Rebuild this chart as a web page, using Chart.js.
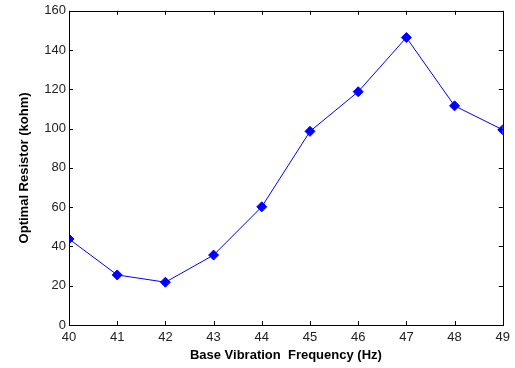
<!DOCTYPE html>
<html>
<head>
<meta charset="utf-8">
<script src="https://cdn.jsdelivr.net/npm/chart.js@4"></script>
<style>
  html, body { margin: 0; padding: 0; background: #fff; }
  #wrap { width: 515px; height: 368px; position: relative; }
</style>
</head>
<body>
<div id="wrap"><canvas id="resistorChart"></canvas></div>
<script>
// datos
const frequencies = [40, 41, 42, 43, 44, 45, 46, 47, 48, 49];
const resistance = [43.8, 25.5, 21.8, 35.6, 60.2, 98.6, 118.8, 146.4, 111.6, 99.4];
const yTicks = [0, 20, 40, 60, 80, 100, 120, 140, 160];

const points = frequencies.map((f, i) => ({ x: f, y: resistance[i] }));

// marco y marcas hacia adentro, estilo matlab
const boxTicks = {
    id: 'boxTicks',
    afterDatasetsDraw(chart) {
        const { ctx, chartArea: a, scales } = chart;
        const len = 4;
        ctx.save();
        ctx.strokeStyle = '#000';
        ctx.lineWidth = 1;
        ctx.beginPath();
        frequencies.forEach(f => {
            const px = Math.round(scales.x.getPixelForValue(f)) + 0.5;
            ctx.moveTo(px, a.bottom); ctx.lineTo(px, a.bottom - len);
            ctx.moveTo(px, a.top); ctx.lineTo(px, a.top + len);
        });
        yTicks.forEach(v => {
            const py = Math.round(scales.y.getPixelForValue(v)) + 0.5;
            ctx.moveTo(a.left, py); ctx.lineTo(a.left + len, py);
            ctx.moveTo(a.right, py); ctx.lineTo(a.right - len, py);
        });
        ctx.stroke();
        ctx.strokeRect(Math.round(a.left) + 0.5, Math.round(a.top) + 0.5,
            Math.round(a.right - a.left), Math.round(a.bottom - a.top));
        ctx.restore();
    }
};

const ctx = document.getElementById('resistorChart').getContext('2d');
new Chart(ctx, {
    type: 'line',
    data: {
        datasets: [{
            data: points,
            borderColor: '#0000ff',
            backgroundColor: '#0000ff',
            borderWidth: 1,
            tension: 0,
            fill: false,
            pointStyle: 'rectRot',
            pointRadius: 5,
            pointBackgroundColor: '#0000ff',
            pointBorderColor: '#0000ff',
            pointBorderWidth: 1
        }]
    },
    options: {
        responsive: true,
        maintainAspectRatio: false,
        animation: false,
        layout: { padding: { top: 10, right: 10, left: 0, bottom: 0 } },
        plugins: {
            legend: { display: false },
            tooltip: { enabled: false }
        },
        scales: {
            x: {
                type: 'linear',
                min: 40,
                max: 49,
                afterFit: s => { s.height = 43; },
                grid: { display: false, drawTicks: false },
                border: { display: false },
                ticks: {
                    stepSize: 1,
                    padding: 5,
                    color: '#222',
                    font: { family: "'Liberation Sans', Arial, sans-serif", size: 13 }
                },
                title: {
                    display: true,
                    text: 'Base Vibration  Frequency (Hz)',
                    color: '#000',
                    padding: { bottom: 5 },
                    font: { family: "'Liberation Sans', Arial, sans-serif", size: 13, weight: 'bold' }
                }
            },
            y: {
                min: 0,
                max: 160,
                afterFit: s => { s.width = 69; },
                afterBuildTicks: s => { s.ticks = yTicks.map(v => ({ value: v })); },
                grid: { display: false, drawTicks: false },
                border: { display: false },
                ticks: {
                    padding: 3,
                    color: '#222',
                    font: { family: "'Liberation Sans', Arial, sans-serif", size: 13 }
                },
                title: {
                    display: true,
                    text: 'Optimal Resistor (kohm)',
                    color: '#000',
                    padding: { top: 17 },
                    font: { family: "'Liberation Sans', Arial, sans-serif", size: 13, weight: 'bold' }
                }
            }
        }
    },
    plugins: [boxTicks]
});
</script>
</body>
</html>
